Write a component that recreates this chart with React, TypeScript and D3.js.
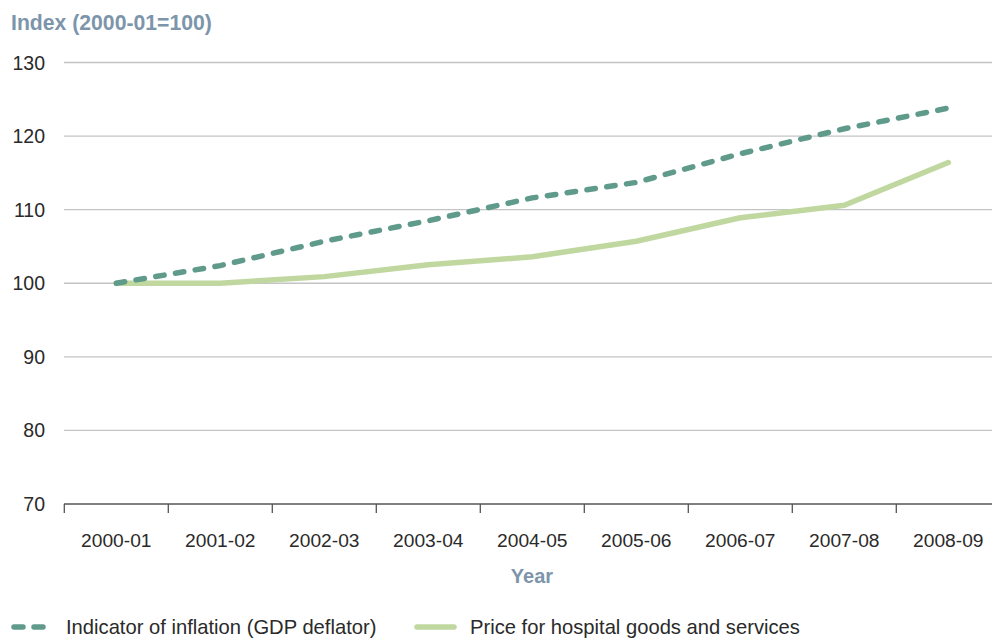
import React, { useEffect } from "react";
import * as d3 from "d3";

const categories = ["2000-01", "2001-02", "2002-03", "2003-04", "2004-05", "2005-06", "2006-07", "2007-08", "2008-09"];
const gdpDeflator = [100, 102.4, 105.7, 108.5, 111.6, 113.7, 117.6, 121.0, 123.8];
const hospitalPrice = [100, 100, 100.9, 102.5, 103.6, 105.7, 108.9, 110.6, 116.4];
const yTicks = [70, 80, 90, 100, 110, 120, 130];
const seriesNames = ["Indicator of inflation (GDP deflator)", "Price for hospital goods and services"];

const W = 992;
const H = 639;
const FONT = "'Liberation Sans', Arial, Helvetica, sans-serif";

export default function App() {
  useEffect(() => {
    document.body.style.margin = "0";
  }, []);

  const x = d3.scaleBand<string>().domain(categories).range([64.3, 64.3 + 104 * 9]).padding(0);
  const y = d3.scaleLinear().domain([70, 130]).range([504, 62.5]);
  const cx = (c: string) => (x(c) as number) + x.bandwidth() / 2;

  const line = d3
    .line<number>()
    .x((_, i) => cx(categories[i]))
    .y((d) => y(d));

  const gdpColor = "#5f9a8b";
  const hospColor = "#c0d8a0";
  const titleColor = "#7d95ab";
  const textColor = "#2a2a2a";

  return (
    <svg width={W} height={H} style={{ display: "block", background: "#fff" }} fontFamily={FONT}>
      <text x={11} y={30} fontSize={21.2} fontWeight="bold" fill={titleColor}>
        Index (2000-01=100)
      </text>
      {yTicks.map((t) => (
        <g key={t}>
          {t !== 70 && (
            <line x1={64} x2={W} y1={y(t)} y2={y(t)} stroke="#c4c4c4" strokeWidth={1.3} />
          )}
          <text x={45} y={y(t)} dy="0.36em" textAnchor="end" fontSize={19.5} fill={textColor}>
            {t}
          </text>
        </g>
      ))}
      <line x1={64} x2={W} y1={y(70)} y2={y(70)} stroke="#555" strokeWidth={1.3} />
      {categories.map((c) => (
        <line
          key={"t" + c}
          x1={x(c) as number}
          x2={x(c) as number}
          y1={y(70)}
          y2={y(70) + 9}
          stroke="#555"
          strokeWidth={1.3}
        />
      ))}
      {categories.map((c) => (
        <text key={"l" + c} x={cx(c)} y={547} textAnchor="middle" fontSize={19.2} fill={textColor}>
          {c}
        </text>
      ))}
      <text x={532} y={583} textAnchor="middle" fontSize={20} fontWeight="bold" fill={titleColor}>
        Year
      </text>
      <path
        d={line(hospitalPrice) as string}
        fill="none"
        stroke={hospColor}
        strokeWidth={5.5}
        strokeLinecap="round"
        strokeLinejoin="round"
      />
      <path
        d={line(gdpDeflator) as string}
        fill="none"
        stroke={gdpColor}
        strokeWidth={5.5}
        strokeDasharray="8.5 11.5"
        strokeLinecap="round"
        strokeLinejoin="round"
      />
      <g>
        <line x1={14} x2={47} y1={627} y2={627} stroke={gdpColor} strokeWidth={5.5} strokeDasharray="9 11" strokeLinecap="round" />
        <text x={66} y={634} fontSize={20.2} fill={textColor}>
          {seriesNames[0]}
        </text>
        <line x1={417} x2={454} y1={627} y2={627} stroke={hospColor} strokeWidth={5.5} strokeLinecap="round" />
        <text x={470} y={634} fontSize={20.2} fill={textColor}>
          {seriesNames[1]}
        </text>
      </g>
    </svg>
  );
}
